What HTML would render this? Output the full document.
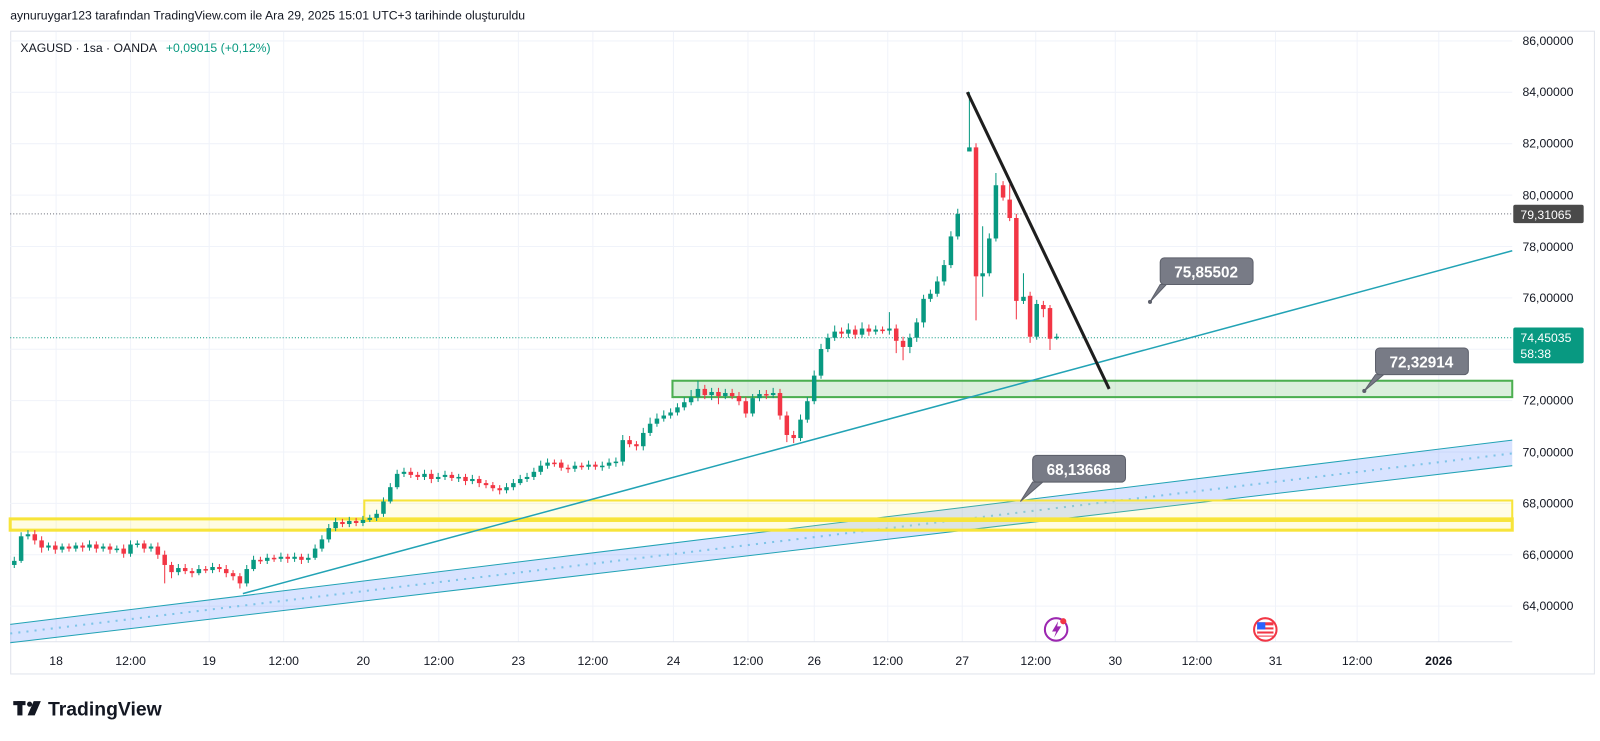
<!DOCTYPE html>
<html><head><meta charset="utf-8"><style>
html,body{margin:0;padding:0;background:#fff;}
svg{display:block;font-family:"Liberation Sans",sans-serif;}
</style></head><body>
<svg width="1600" height="741" viewBox="0 0 1568 724" preserveAspectRatio="none" xmlns="http://www.w3.org/2000/svg">
<rect width="1568" height="724" fill="#fff"/>
<text x="10" y="19" font-size="12" fill="#131722">aynuruygar123 tarafından TradingView.com ile Ara 29, 2025 15:01 UTC+3 tarihinde oluşturuldu</text>
<rect x="10.5" y="30.5" width="1552" height="628" fill="none" stroke="#e0e3eb"/>
<g stroke="#f0f3fa" stroke-width="1">
<line x1="10" x2="1482" y1="40" y2="40"/><line x1="10" x2="1482" y1="90.2" y2="90.2"/><line x1="10" x2="1482" y1="140.4" y2="140.4"/><line x1="10" x2="1482" y1="190.6" y2="190.6"/><line x1="10" x2="1482" y1="240.8" y2="240.8"/><line x1="10" x2="1482" y1="291" y2="291"/><line x1="10" x2="1482" y1="341.2" y2="341.2"/><line x1="10" x2="1482" y1="391.4" y2="391.4"/><line x1="10" x2="1482" y1="441.6" y2="441.6"/><line x1="10" x2="1482" y1="491.8" y2="491.8"/><line x1="10" x2="1482" y1="542" y2="542"/><line x1="10" x2="1482" y1="592.2" y2="592.2"/>
<path d="M55 31V627M128 31V627M205 31V627M278 31V627M356 31V627M430 31V627M508 31V627M581 31V627M660 31V627M733 31V627M798 31V627M870 31V627M943 31V627M1015 31V627M1093 31V627M1173 31V627M1250 31V627M1330 31V627M1410 31V627"/>
</g>
<line x1="10" x2="1482" y1="627" y2="627" stroke="#e0e3eb"/>
<!-- blue channel -->
<polygon points="10,610 1482,430 1482,455 10,628" fill="rgba(41,98,255,0.18)"/>
<line x1="10" y1="610" x2="1482" y2="430" stroke="#22a3b5" stroke-width="1"/>
<line x1="10" y1="628" x2="1482" y2="455" stroke="#22a3b5" stroke-width="1"/>
<line x1="10" y1="619" x2="1482" y2="443" stroke="#7fc4e8" stroke-width="2" stroke-dasharray="2,6"/>
<!-- yellow -->
<rect x="10" y="507" width="1472" height="11" fill="rgba(255,235,59,0.15)" stroke="#f7e43a" stroke-width="3"/>
<rect x="357" y="489" width="1125" height="20" fill="rgba(255,235,59,0.12)" stroke="#f7e43a" stroke-width="2"/>
<!-- green zone -->
<rect x="659" y="372" width="823" height="16" fill="rgba(76,175,80,0.2)" stroke="#4caf50" stroke-width="2"/>
<line x1="10" y1="209" x2="1482" y2="209" stroke="#6a6d78" stroke-width="1" stroke-dasharray="1,2"/>
<line x1="10" y1="330" x2="1482" y2="330" stroke="#089981" stroke-width="1" stroke-dasharray="1,2"/>
<!-- candles -->
<path stroke="#089981" stroke-width="1" fill="none" d="M14 544V555 M20.7 520V550 M27.4 518V527 M47.5 530V538 M60.9 531V540 M74.3 530V539 M87.7 528V538 M101.1 531V539 M114.5 533V540 M127.9 528V544 M134.6 528V535 M148 531V539 M174.8 551V562 M194.9 552V562 M208.3 550V560 M241.8 552V573 M248.5 543V558 M261.9 541V551 M275.3 540V549 M288.7 540V549 M302.1 541V550 M308.8 532V547 M315.5 523V539 M322.2 512V530 M328.9 506V519 M342.3 505V515 M355.7 504V514 M362.4 503V510 M369.1 498V509 M375.8 486V505 M382.5 472V492 M389.2 459V478 M395.9 457V466 M416 459V469 M429.4 462V471 M436.1 460V469 M449.5 463V471 M462.9 464V473 M496.4 472V482 M503.1 468V479 M509.8 464V474 M516.5 462V471 M523.2 457V469 M529.9 450V464 M536.6 448V458 M563.4 451V461 M576.8 450V459 M590.2 451V460 M596.9 448V458 M603.6 447V456 M610.3 425V455 M630.4 418V440 M637.1 408V426 M643.8 404V417 M650.5 401V412 M657.2 399V409 M663.9 394V406 M670.6 388V401 M677.3 381V396 M684 372V392 M697.4 379V391 M710.8 380V390 M737.6 385V407 M744.3 381V392 M757.7 379V389 M784.5 405V431 M791.2 388V413 M797.9 362V395 M804.6 336V370 M811.3 326V344 M818 318V333 M831.4 316V330 M844.8 315V330 M858.2 318V327 M871.6 305V327 M891.7 326V345 M898.4 311V334 M905.1 288V320 M911.8 283V295 M918.5 270V290 M925.2 254V279 M931.9 226V262 M938.6 204V234 M950 90V148 M963 221V290 M969.5 228V270 M976 169V236 M1003 267V297 M1016 293V332 M1035.6 326V332"/>
<path stroke="#f23645" stroke-width="1" fill="none" d="M34.1 518V532 M40.8 524V540 M54.2 529V541 M67.6 531V539 M81 530V539 M94.4 529V540 M107.8 531V541 M121.2 532V545 M141.3 528V540 M154.7 530V546 M161.4 538V570 M168.1 549V565 M181.5 551V561 M188.2 555V564 M201.6 553V560 M215 551V559 M221.7 552V564 M228.4 557V567 M235.1 560V575 M255.2 544V551 M268.6 542V549 M282 541V550 M295.4 541V551 M335.6 507V515 M349 506V514 M402.6 457V467 M409.3 461V469 M422.7 459V472 M442.8 461V470 M456.2 463V474 M469.6 465V476 M476.3 469V477 M483 471V480 M489.7 474V483 M543.3 449V456 M550 449V460 M556.7 454V462 M570.1 452V459 M583.5 451V459 M617 426V437 M623.7 431V440 M690.7 376V390 M704.1 379V395 M717.5 380V390 M724.2 383V396 M730.9 388V408 M751 381V390 M764.4 380V410 M771.1 402V432 M777.8 421V433 M824.7 320V330 M838.1 318V331 M851.5 317V328 M864.9 319V326 M878.3 317V345 M885 329V352 M956.5 140V313 M983 177V196 M989.5 180V216 M996 209V312 M1009.5 285V335 M1022.5 294V310 M1029 298V342"/>
<g fill="#089981">
<rect x="11.8" y="548" width="4.4" height="4"/><rect x="18.5" y="524" width="4.4" height="24"/><rect x="25.2" y="522" width="4.4" height="2"/><rect x="45.3" y="533" width="4.4" height="2"/><rect x="58.7" y="534" width="4.4" height="3"/><rect x="72.1" y="533" width="4.4" height="3"/><rect x="85.5" y="532" width="4.4" height="3"/><rect x="98.9" y="534" width="4.4" height="2"/><rect x="112.3" y="536" width="4.4" height="1.5"/><rect x="125.7" y="532" width="4.4" height="9"/><rect x="132.4" y="531" width="4.4" height="1.5"/><rect x="145.8" y="534" width="4.4" height="2"/><rect x="172.6" y="555" width="4.4" height="4"/><rect x="192.7" y="556" width="4.4" height="4"/><rect x="206.1" y="554" width="4.4" height="3"/><rect x="239.6" y="556" width="4.4" height="14"/><rect x="246.3" y="547" width="4.4" height="9"/><rect x="259.7" y="545" width="4.4" height="3"/><rect x="273.1" y="544" width="4.4" height="2"/><rect x="286.5" y="544" width="4.4" height="2"/><rect x="299.9" y="545" width="4.4" height="2"/><rect x="306.6" y="536" width="4.4" height="9"/><rect x="313.3" y="527" width="4.4" height="9"/><rect x="320" y="516" width="4.4" height="11"/><rect x="326.7" y="510" width="4.4" height="6"/><rect x="340.1" y="509" width="4.4" height="3"/><rect x="353.5" y="508" width="4.4" height="3"/><rect x="360.2" y="506" width="4.4" height="2"/><rect x="366.9" y="502" width="4.4" height="4"/><rect x="373.6" y="490" width="4.4" height="12"/><rect x="380.3" y="476" width="4.4" height="14"/><rect x="387" y="463" width="4.4" height="13"/><rect x="393.7" y="461" width="4.4" height="2"/><rect x="413.8" y="463" width="4.4" height="3"/><rect x="427.2" y="466" width="4.4" height="2"/><rect x="433.9" y="464" width="4.4" height="2"/><rect x="447.3" y="466" width="4.4" height="1.5"/><rect x="460.7" y="468" width="4.4" height="2"/><rect x="494.2" y="476" width="4.4" height="3"/><rect x="500.9" y="472" width="4.4" height="4"/><rect x="507.6" y="468" width="4.4" height="4"/><rect x="514.3" y="466" width="4.4" height="2"/><rect x="521" y="461" width="4.4" height="5"/><rect x="527.7" y="455" width="4.4" height="6"/><rect x="534.4" y="452" width="4.4" height="3"/><rect x="561.2" y="455" width="4.4" height="3"/><rect x="574.6" y="454" width="4.4" height="2"/><rect x="588" y="455" width="4.4" height="1.5"/><rect x="594.7" y="452" width="4.4" height="3"/><rect x="601.4" y="451" width="4.4" height="1.5"/><rect x="608.1" y="430" width="4.4" height="21"/><rect x="628.2" y="423" width="4.4" height="13"/><rect x="634.9" y="414" width="4.4" height="9"/><rect x="641.6" y="409" width="4.4" height="5"/><rect x="648.3" y="406" width="4.4" height="3"/><rect x="655" y="403" width="4.4" height="3"/><rect x="661.7" y="398" width="4.4" height="5"/><rect x="668.4" y="393" width="4.4" height="5"/><rect x="675.1" y="388" width="4.4" height="5"/><rect x="681.8" y="380" width="4.4" height="8"/><rect x="695.2" y="383" width="4.4" height="3"/><rect x="708.6" y="384" width="4.4" height="3"/><rect x="735.4" y="389" width="4.4" height="15"/><rect x="742.1" y="385" width="4.4" height="4"/><rect x="755.5" y="384" width="4.4" height="2"/><rect x="782.3" y="410" width="4.4" height="18"/><rect x="789" y="392" width="4.4" height="18"/><rect x="795.7" y="367" width="4.4" height="25"/><rect x="802.4" y="341" width="4.4" height="26"/><rect x="809.1" y="330" width="4.4" height="11"/><rect x="815.8" y="324" width="4.4" height="6"/><rect x="829.2" y="322" width="4.4" height="4"/><rect x="842.6" y="321" width="4.4" height="6"/><rect x="856" y="322" width="4.4" height="2"/><rect x="869.4" y="321" width="4.4" height="2"/><rect x="889.5" y="330" width="4.4" height="9"/><rect x="896.2" y="315" width="4.4" height="15"/><rect x="902.9" y="292" width="4.4" height="23"/><rect x="909.6" y="287" width="4.4" height="5"/><rect x="916.3" y="275" width="4.4" height="12"/><rect x="923" y="259" width="4.4" height="16"/><rect x="929.7" y="231" width="4.4" height="28"/><rect x="936.4" y="209" width="4.4" height="22"/><rect x="947.8" y="144" width="4.4" height="4"/><rect x="960.8" y="267" width="4.4" height="3"/><rect x="967.3" y="233" width="4.4" height="34"/><rect x="973.8" y="181" width="4.4" height="52"/><rect x="1000.8" y="290" width="4.4" height="4"/><rect x="1013.8" y="297" width="4.4" height="32"/><rect x="1033.4" y="329" width="4.4" height="1.5"/>
</g>
<g fill="#f23645">
<rect x="31.9" y="522" width="4.4" height="6"/><rect x="38.6" y="528" width="4.4" height="7"/><rect x="52" y="533" width="4.4" height="4"/><rect x="65.4" y="534" width="4.4" height="2"/><rect x="78.8" y="533" width="4.4" height="2"/><rect x="92.2" y="532" width="4.4" height="4"/><rect x="105.6" y="534" width="4.4" height="3"/><rect x="119" y="536" width="4.4" height="5"/><rect x="139.1" y="531" width="4.4" height="5"/><rect x="152.5" y="534" width="4.4" height="8"/><rect x="159.2" y="542" width="4.4" height="10"/><rect x="165.9" y="552" width="4.4" height="7"/><rect x="179.3" y="555" width="4.4" height="3"/><rect x="186" y="558" width="4.4" height="2"/><rect x="199.4" y="556" width="4.4" height="1.5"/><rect x="212.8" y="554" width="4.4" height="2"/><rect x="219.5" y="556" width="4.4" height="4"/><rect x="226.2" y="560" width="4.4" height="3"/><rect x="232.9" y="563" width="4.4" height="7"/><rect x="253" y="547" width="4.4" height="1.5"/><rect x="266.4" y="545" width="4.4" height="1.5"/><rect x="279.8" y="544" width="4.4" height="2"/><rect x="293.2" y="544" width="4.4" height="3"/><rect x="333.4" y="510" width="4.4" height="2"/><rect x="346.8" y="509" width="4.4" height="2"/><rect x="400.4" y="461" width="4.4" height="3"/><rect x="407.1" y="464" width="4.4" height="2"/><rect x="420.5" y="463" width="4.4" height="5"/><rect x="440.6" y="464" width="4.4" height="3"/><rect x="454" y="466" width="4.4" height="4"/><rect x="467.4" y="468" width="4.4" height="4"/><rect x="474.1" y="472" width="4.4" height="2"/><rect x="480.8" y="474" width="4.4" height="3"/><rect x="487.5" y="477" width="4.4" height="2"/><rect x="541.1" y="452" width="4.4" height="1.5"/><rect x="547.8" y="452" width="4.4" height="5"/><rect x="554.5" y="457" width="4.4" height="1.5"/><rect x="567.9" y="455" width="4.4" height="1.5"/><rect x="581.3" y="454" width="4.4" height="2"/><rect x="614.8" y="430" width="4.4" height="4"/><rect x="621.5" y="434" width="4.4" height="2"/><rect x="688.5" y="380" width="4.4" height="6"/><rect x="701.9" y="383" width="4.4" height="4"/><rect x="715.3" y="384" width="4.4" height="3"/><rect x="722" y="387" width="4.4" height="5"/><rect x="728.7" y="392" width="4.4" height="12"/><rect x="748.8" y="385" width="4.4" height="1.5"/><rect x="762.2" y="384" width="4.4" height="22"/><rect x="768.9" y="406" width="4.4" height="19"/><rect x="775.6" y="425" width="4.4" height="3"/><rect x="822.5" y="324" width="4.4" height="2"/><rect x="835.9" y="322" width="4.4" height="5"/><rect x="849.3" y="321" width="4.4" height="3"/><rect x="862.7" y="322" width="4.4" height="1.5"/><rect x="876.1" y="321" width="4.4" height="12"/><rect x="882.8" y="333" width="4.4" height="6"/><rect x="954.3" y="144" width="4.4" height="126"/><rect x="980.8" y="181" width="4.4" height="12"/><rect x="987.3" y="195" width="4.4" height="18"/><rect x="993.8" y="213" width="4.4" height="81"/><rect x="1007.3" y="289" width="4.4" height="40"/><rect x="1020.3" y="298" width="4.4" height="4"/><rect x="1026.8" y="301" width="4.4" height="30"/>
</g>
<!-- trend lines -->
<line x1="238" y1="580" x2="1482" y2="245" stroke="#22a3b5" stroke-width="1.5"/>
<line x1="948" y1="90" x2="1087" y2="380" stroke="#1e1e1e" stroke-width="3"/>
<!-- callouts -->
<g font-size="15" font-weight="bold" fill="#fff" text-anchor="middle">
<path d="M1127,295 L1143,278 L1137,278 Z" fill="#787b86" stroke="#5d606b"/>
<rect x="1137" y="252" width="91" height="26" rx="4" fill="#787b86" stroke="#5d606b"/>
<circle cx="1127" cy="295" r="2" fill="#5d606b"/>
<text x="1182" y="271">75,85502</text>
<path d="M1337,382 L1356,366 L1348,366 Z" fill="#787b86" stroke="#5d606b"/>
<rect x="1348" y="340" width="91" height="26" rx="4" fill="#787b86" stroke="#5d606b"/>
<circle cx="1337" cy="382" r="2" fill="#5d606b"/>
<text x="1393" y="359">72,32914</text>
<path d="M1000,490 L1022,471 L1012,471 Z" fill="#787b86" stroke="#5d606b"/>
<rect x="1012" y="445" width="91" height="26" rx="4" fill="#787b86" stroke="#5d606b"/>
<text x="1057" y="464">68,13668</text>
</g>
<text x="20" y="51" font-size="12" fill="#131722">XAGUSD · 1sa · OANDA <tspan fill="#089981" dx="6">+0,09015 (+0,12%)</tspan></text>
<!-- axis -->
<g font-size="12" fill="#131722">
<text x="1492" y="44">86,00000</text><text x="1492" y="94">84,00000</text><text x="1492" y="144">82,00000</text><text x="1492" y="195">80,00000</text><text x="1492" y="245">78,00000</text><text x="1492" y="295">76,00000</text><text x="1492" y="395">72,00000</text><text x="1492" y="446">70,00000</text><text x="1492" y="496">68,00000</text><text x="1492" y="546">66,00000</text><text x="1492" y="596">64,00000</text>
</g>
<g font-size="12" fill="#131722" text-anchor="middle">
<text x="55" y="650">18</text><text x="128" y="650">12:00</text><text x="205" y="650">19</text><text x="278" y="650">12:00</text><text x="356" y="650">20</text><text x="430" y="650">12:00</text><text x="508" y="650">23</text><text x="581" y="650">12:00</text><text x="660" y="650">24</text><text x="733" y="650">12:00</text><text x="798" y="650">26</text><text x="870" y="650">12:00</text><text x="943" y="650">27</text><text x="1015" y="650">12:00</text><text x="1093" y="650">30</text><text x="1173" y="650">12:00</text><text x="1250" y="650">31</text><text x="1330" y="650">12:00</text><text x="1410" y="650" font-weight="bold">2026</text>
</g>
<rect x="1483" y="200" width="69" height="18" rx="2" fill="#4a4a4a"/>
<text x="1490" y="214" font-size="12" fill="#fff">79,31065</text>
<rect x="1483" y="320" width="69" height="35" rx="2" fill="#089981"/>
<text x="1490" y="334" font-size="12" fill="#fff">74,45035</text>
<text x="1490" y="350" font-size="12" fill="#fff">58:38</text>
<!-- icons -->
<circle cx="1035" cy="615" r="11" fill="#fff" stroke="#9c27b0" stroke-width="2"/>
<path d="M1037,607 L1031,617 L1035,617 L1033,623 L1040,612 L1036,612 Z" fill="#9c27b0"/>
<circle cx="1042" cy="607" r="3" fill="#f23645"/>
<circle cx="1240" cy="615" r="11" fill="#fff" stroke="#f23645" stroke-width="2"/>
<rect x="1232" y="608" width="16" height="14" fill="#f23645"/>
<rect x="1232" y="611" width="16" height="2" fill="#fff"/><rect x="1232" y="615" width="16" height="2" fill="#fff"/><rect x="1232" y="619" width="16" height="2" fill="#fff"/>
<rect x="1232" y="608" width="8" height="7" fill="#2962ff"/>
<!-- logo -->
<g fill="#131722">
<rect x="13" y="685" width="12" height="4"/><rect x="17" y="685" width="5" height="14"/>
<circle cx="29" cy="688" r="2.5"/><path d="M33,685 L40,685 L34,699 L27,699 Z"/>
<text x="47" y="699" font-size="19" font-weight="bold">TradingView</text>
</g>
</svg>
</body></html>
